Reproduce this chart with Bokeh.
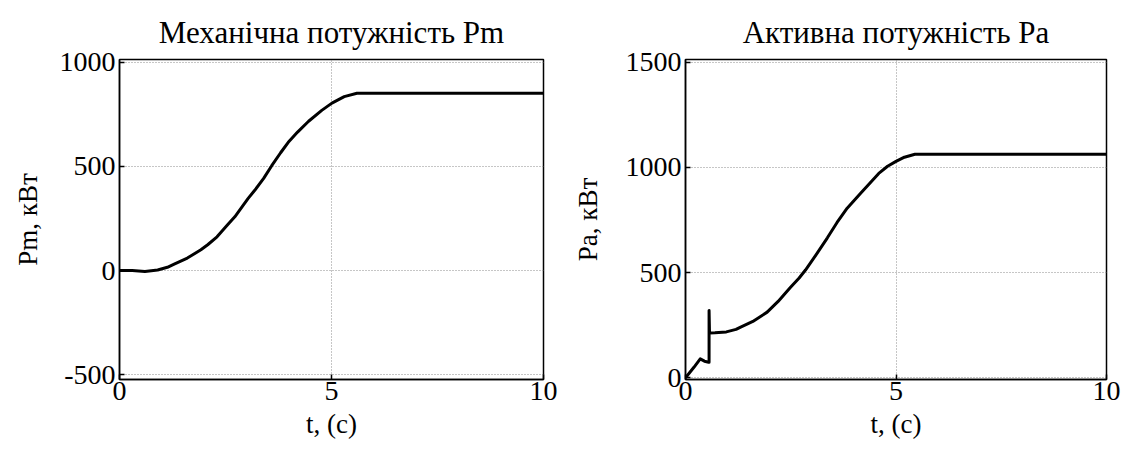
from bokeh.plotting import figure
from bokeh.layouts import row
from bokeh.models import FixedTicker, Range1d
from bokeh.embed import file_html
from bokeh.resources import INLINE

# ---- data ----
t_pm = [0.0, 0.3, 0.6, 0.9, 1.13, 1.29, 1.6, 1.92, 2.08, 2.3, 2.56, 2.72,
        3.03, 3.19, 3.4, 3.59, 3.8, 3.98, 4.2, 4.46, 4.77, 5.01, 5.3, 5.6, 10.0]
pm = [0, 0, -4, 3, 16, 31, 60, 100, 124, 162, 222, 258,
      345, 385, 442, 503, 565, 615, 664, 716, 768, 803, 834, 850, 850]

t_pa = [0.0, 0.2, 0.35, 0.45, 0.55, 0.56, 0.56, 0.57, 0.7, 0.97, 1.2, 1.31,
        1.6, 1.94, 2.2, 2.49, 2.7, 2.85, 3.1, 3.37, 3.6, 3.84, 4.16, 4.59, 4.8,
        5.0, 5.2, 5.45, 10.0]
pa = [0, 50, 90, 79, 74, 74, 320, 213, 214, 218, 230, 241,
      268, 312, 363, 429, 474, 512, 584, 665, 738, 806, 877, 971, 1005,
      1028, 1048, 1062, 1062]

x_ticks = [0, 5, 10]
pm_ticks = [-500, 0, 500, 1000]
pa_ticks = [0, 500, 1000, 1500]

titles = ["Механічна потужність Pm", "Активна потужність Pa"]
ylabels = ["Pm, кВт", "Pa, кВт"]
xlabel = "t, (c)"

FONT = "Liberation Serif"


def make(tx, yv, yticks, yrange, title, ylabel, border_left, ylab_standoff):
    p = figure(width=563, height=451, output_backend="svg", toolbar_location=None,
               x_range=Range1d(0, 10), y_range=Range1d(*yrange),
               min_border_left=border_left, min_border_right=20,
               min_border_top=59, min_border_bottom=72)
    p.title.text = title
    p.title.align = "center"
    p.title.text_font = FONT
    p.title.text_font_size = "31px"
    p.title.text_font_style = "normal"
    p.title.text_color = "black"
    p.title.standoff = 19
    p.outline_line_color = "black"
    p.outline_line_width = 1.5
    p.background_fill_color = "white"
    p.border_fill_color = "white"

    p.xaxis.ticker = FixedTicker(ticks=x_ticks)
    p.yaxis.ticker = FixedTicker(ticks=yticks)
    p.yaxis.major_label_overrides = {v: str(v) for v in yticks}
    for ax in (p.xaxis[0], p.yaxis[0]):
        ax.major_label_text_font = FONT
        ax.major_label_text_font_size = "28px"
        ax.major_label_text_color = "black"
        ax.axis_label_text_font = FONT
        ax.axis_label_text_font_size = "27px"
        ax.axis_label_text_font_style = "normal"
        ax.axis_label_text_color = "black"
        ax.major_tick_in = 5
        ax.major_tick_out = 0
        ax.minor_tick_line_color = None
        ax.axis_line_width = 1.5
        ax.major_tick_line_width = 1.5
    p.xaxis.axis_label = xlabel
    p.yaxis.axis_label = ylabel
    p.xaxis.major_label_standoff = 2
    p.xaxis.axis_label_standoff = 6
    p.yaxis.major_label_standoff = 4
    p.yaxis.axis_label_standoff = ylab_standoff

    p.xgrid.ticker = FixedTicker(ticks=x_ticks)
    p.ygrid.ticker = FixedTicker(ticks=yticks)
    for g in (p.xgrid[0], p.ygrid[0]):
        g.grid_line_color = "#8c8c8c"
        g.grid_line_dash = "1 2"
        g.grid_line_width = 1

    p.line(tx, yv, line_color="black", line_width=3, line_join="round")
    return p


p1 = make(t_pm, pm, pm_ticks, (-522, 1012), titles[0], ylabels[0], 119, 14)
p2 = make(t_pa, pa, pa_ticks, (-8, 1512), titles[1], ylabels[1], 122, 20)

layout = row(p1, p2)
open("out.html", "w").write(file_html(layout, INLINE))
